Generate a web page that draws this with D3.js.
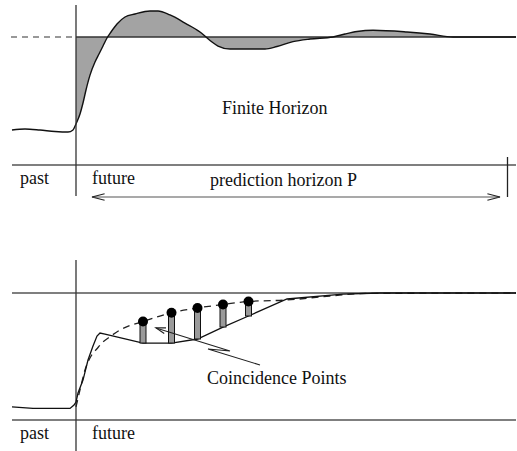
<!DOCTYPE html>
<html>
<head>
<meta charset="utf-8">
<script src="https://cdn.jsdelivr.net/npm/d3@7"></script>
<style>
  html, body { margin: 0; padding: 0; background: #fff; }
  svg { display: block; }
</style>
</head>
<body>
<svg id="chart" width="517" height="451"></svg>
<script>
// ---- Finite horizon panel: output response (time t, normalised output) ----
const topTime  = [-12.8, -10.2, -7.2, -4.2, -1.6, -0.6, 0, 0.8, 1.4, 2.0, 2.8, 3.8, 4.6, 5.4, 6.2, 7.0, 8.2, 9.8, 11.8, 14.8, 16.4, 18.8, 21.8, 24.8, 26.0, 27.2, 28.4, 30.8, 37.8, 40.2, 43.4, 46.8, 51.4, 53.8, 56.2, 59.4, 66.2, 70.8, 75.4, 88];
const topValue = [0, 0.011, 0, -0.016, -0.022, 0, 0.065, 0.172, 0.29, 0.43, 0.59, 0.731, 0.817, 0.903, 0.989, 1.054, 1.14, 1.215, 1.247, 1.28, 1.28, 1.237, 1.15, 1.054, 1.0, 0.946, 0.903, 0.871, 0.871, 0.898, 0.95, 0.978, 1.0, 1.032, 1.059, 1.073, 1.054, 1.032, 1.0, 1.0];
const setpoint = 1;

// ---- Coincidence panel: predicted output (solid) and reference trajectory (dashed) ----
const outTime  = [-12.8, -8.6, -1.2, -0.4, 0, 0.4, 1.4, 2.4, 3.4, 4.2, 4.8, 5.8, 13.4, 19.1, 24.3, 29.4, 34.5, 42.2, 53.4, 60.8, 88];
const outValue = [0.009, -0.004, -0.004, 0.026, 0.052, 0.13, 0.243, 0.417, 0.539, 0.626, 0.652, 0.643, 0.565, 0.565, 0.6, 0.704, 0.8, 0.948, 0.991, 1.0, 1.0];
const refTime  = [0, 0.8, 1.8, 3.14, 4.14, 5.4, 6.8, 8.8, 10.8, 13.4, 19.1, 24.3, 29.4, 34.5, 42.2, 50.8, 58.2, 88];
const refValue = [0.009, 0.157, 0.33, 0.461, 0.513, 0.574, 0.62, 0.678, 0.717, 0.752, 0.829, 0.87, 0.9, 0.926, 0.939, 0.974, 0.996, 1.0];

// coincidence points: time, reference value (dot), predicted output value (bar foot)
const pointTime   = [13.4, 19.1, 24.3, 29.4, 34.5];
const pointRef    = [0.752, 0.829, 0.87, 0.9, 0.926];
const pointOutput = [0.565, 0.565, 0.6, 0.704, 0.8];

// pointer from the label towards the points (zig-zag), in panel units
const pointerTime  = [36.8, 26.4, 30.8, 16.0];
const pointerValue = [0.374, 0.513, 0.496, 0.696];

const labels = {
  past: "past", future: "future", finite: "Finite Horizon",
  horizon: "prediction horizon P", coincidence: "Coincidence Points"
};

const svg = d3.select("#chart");

// shared time axis
const x = d3.scaleLinear().domain([-13, 88]).range([11, 516]);
// vertical scales for each panel
const yTop = d3.scaleLinear().domain([0, 1]).range([130, 37]);
const yBot = d3.scaleLinear().domain([0, 1]).range([408, 293]);

const axisColor = "#333", gridColor = "#555";
const serif = "'Liberation Serif', Tinos, 'Times New Roman', Times, 'DejaVu Serif', serif";
const fontSize = 18;

function hline(y, x0, x1, opts = {}) {
  svg.append("line").attr("x1", x0).attr("x2", x1).attr("y1", y).attr("y2", y)
    .attr("stroke", opts.color || gridColor).attr("stroke-width", opts.w || 1.3)
    .attr("stroke-dasharray", opts.dash || null);
}
function vline(xp, y0, y1, opts = {}) {
  svg.append("line").attr("x1", xp).attr("x2", xp).attr("y1", y0).attr("y2", y1)
    .attr("stroke", opts.color || axisColor).attr("stroke-width", opts.w || 1.3);
}
function arrowHead(tip, from, len, spread) {
  const ang = Math.atan2(from[1] - tip[1], from[0] - tip[0]);
  const p1 = [tip[0] + len * Math.cos(ang + spread), tip[1] + len * Math.sin(ang + spread)];
  const p2 = [tip[0] + len * Math.cos(ang - spread), tip[1] + len * Math.sin(ang - spread)];
  svg.append("path").attr("d", `M${p1}L${tip}L${p2}`)
    .attr("fill", "none").attr("stroke", "#222").attr("stroke-width", 1.2);
}
function label(xp, yp, str) {
  svg.append("text").attr("x", xp).attr("y", yp)
    .attr("font-family", serif).attr("font-size", fontSize).attr("fill", "#111")
    .text(str);
}

// ================= Top panel =================
const topPts = topTime.map((t, i) => ({ t, v: topValue[i] }));
const futurePts = topPts.filter(d => d.t >= 0);

// shaded deviation between response and setpoint
svg.append("path")
  .datum(futurePts)
  .attr("d", d3.area().x(d => x(d.t)).y0(yTop(setpoint)).y1(d => yTop(d.v)).curve(d3.curveMonotoneX))
  .attr("fill", "#a3a3a3");

// setpoint: dashed in the past, solid in the future
hline(yTop(setpoint), x(-13), x(0), { dash: "6,5", color: "#333", w: 1.2 });
hline(yTop(setpoint), x(0), x(88), { color: "#333", w: 1.4 });

// response
svg.append("path")
  .datum(topPts)
  .attr("d", d3.line().x(d => x(d.t)).y(d => yTop(d.v)).curve(d3.curveMonotoneX))
  .attr("fill", "none").attr("stroke", "#111").attr("stroke-width", 1.4);

// time axis and present marker
const topBase = 165;
hline(topBase, x(-12.8), x(88));
vline(x(0), 5, 196);
vline(x(86.3), 157, 197, { color: "#222" });

// prediction horizon arrow
const arrowY = 197;
const aL = [x(3.2), arrowY], aR = [x(84.8), arrowY];
svg.append("line").attr("x1", aL[0]).attr("x2", aR[0]).attr("y1", arrowY).attr("y2", arrowY)
  .attr("stroke", "#555").attr("stroke-width", 1.2);
arrowHead(aL, aR, 13, 0.25);
arrowHead(aR, aL, 13, 0.25);

label(20, 184, labels.past);
label(92, 184, labels.future);
label(210, 186, labels.horizon);
label(222, 114, labels.finite);

// ================= Bottom panel =================
hline(yBot(1), x(-12.8), x(88));
const botBase = 420;
hline(botBase, x(-12.8), x(88));
vline(x(0), 260, 451);

// reference trajectory
svg.append("path")
  .datum(refTime.map((t, i) => ({ t, v: refValue[i] })))
  .attr("d", d3.line().x(d => x(d.t)).y(d => yBot(d.v)).curve(d3.curveMonotoneX))
  .attr("fill", "none").attr("stroke", "#222").attr("stroke-width", 1.3)
  .attr("stroke-dasharray", "7,5");

// predicted output
svg.append("path")
  .datum(outTime.map((t, i) => ({ t, v: outValue[i] })))
  .attr("d", d3.line().x(d => x(d.t)).y(d => yBot(d.v)))
  .attr("fill", "none").attr("stroke", "#111").attr("stroke-width", 1.3);

// coincidence point bars and dots
const cp = pointTime.map((t, i) => ({ t, r: pointRef[i], o: pointOutput[i] }));
svg.selectAll("rect.cp").data(cp).enter().append("rect")
  .attr("class", "cp")
  .attr("x", d => x(d.t) - 3)
  .attr("width", 6)
  .attr("y", d => yBot(d.r))
  .attr("height", d => yBot(d.o) - yBot(d.r))
  .attr("fill", "#9a9a9a").attr("stroke", "#111").attr("stroke-width", 1);
svg.selectAll("circle.cp").data(cp).enter().append("circle")
  .attr("class", "cp")
  .attr("cx", d => x(d.t)).attr("cy", d => yBot(d.r)).attr("r", 5)
  .attr("fill", "#000");

// zig-zag pointer
const ptr = pointerTime.map((t, i) => [x(t), yBot(pointerValue[i])]);
svg.append("path").attr("d", d3.line()(ptr))
  .attr("fill", "none").attr("stroke", "#222").attr("stroke-width", 1.1);
arrowHead(ptr[3], ptr[2], 10, 0.3);

label(207, 384, labels.coincidence);
label(20, 439, labels.past);
label(92, 439, labels.future);
</script>
</body>
</html>
